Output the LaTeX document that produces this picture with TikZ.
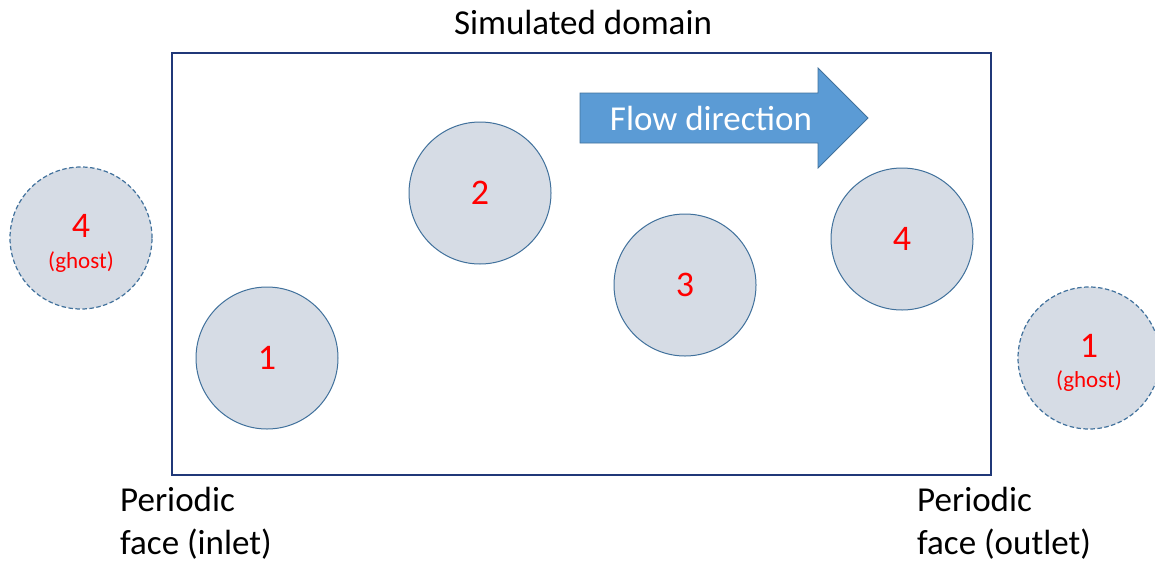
\documentclass[tikz,border=0pt]{standalone}
\usepackage{fontspec}
\setmainfont{Carlito}
\definecolor{domainblue}{RGB}{32,56,120}
\definecolor{particlefill}{RGB}{214,220,229}
\definecolor{particleedge}{RGB}{65,113,156}
\definecolor{arrowfill}{RGB}{91,155,213}
\begin{document}
\begin{tikzpicture}[x=1pt,y=-1pt,
  particle/.style={circle, minimum size=142pt, inner sep=0pt, fill=particlefill, draw=particleedge, line width=1pt},
  ghost/.style={particle, line width=1.2pt, dash pattern=on 4.5pt off 2.5pt},
  idx/.style={text=red, font=\fontsize{36}{40}\selectfont, inner sep=0pt},
  ghosttag/.style={text=red, font=\fontsize{23}{26}\selectfont, inner sep=0pt},
  caption/.style={font=\fontsize{35}{43}\selectfont, inner sep=0pt, align=left}]
\useasboundingbox (0,0) rectangle (1155,565);
% simulated domain
\node[draw=domainblue, line width=1.6pt, minimum width=819pt, minimum height=422pt, inner sep=0pt, anchor=north west] (domain) at (171,52) {};
\node[caption, anchor=center] (title) at (583,22) {Simulated domain};
% flow direction arrow
\draw[fill=arrowfill, draw=particleedge, line width=0.8pt]
  (580,93) -- (818,93) -- (818,68) -- (868,118) -- (818,168) -- (818,143) -- (580,143) -- cycle;
\node[text=white, font=\fontsize{35}{40}\selectfont, inner sep=0pt] (flow) at (711,118) {Flow direction};
% particles inside the domain
\node[particle] (p1) at (267,358) {};
\node[particle] (p2) at (480,193) {};
\node[particle] (p3) at (685,285) {};
\node[particle] (p4) at (902,239) {};
\node[idx] (n1) at (p1) {1};
\node[idx] (n2) at (p2) {2};
\node[idx] (n3) at (p3) {3};
\node[idx] (n4) at (p4) {4};
% periodic images
\node[ghost] (g4) at (81,238) {};
\node[ghost] (g1) at (1089,358) {};
\node[idx] (gn4) at (81,226) {4};
\node[ghosttag] (gt4) at (81,262) {(ghost)};
\node[idx] (gn1) at (1089,346) {1};
\node[ghosttag] (gt1) at (1089,381) {(ghost)};
% periodic faces
\node[caption, anchor=north west] (inlet) at (120,487) {Periodic\\face (inlet)};
\node[caption, anchor=north west] (outlet) at (917,487) {Periodic\\face (outlet)};
\end{tikzpicture}
\end{document}
